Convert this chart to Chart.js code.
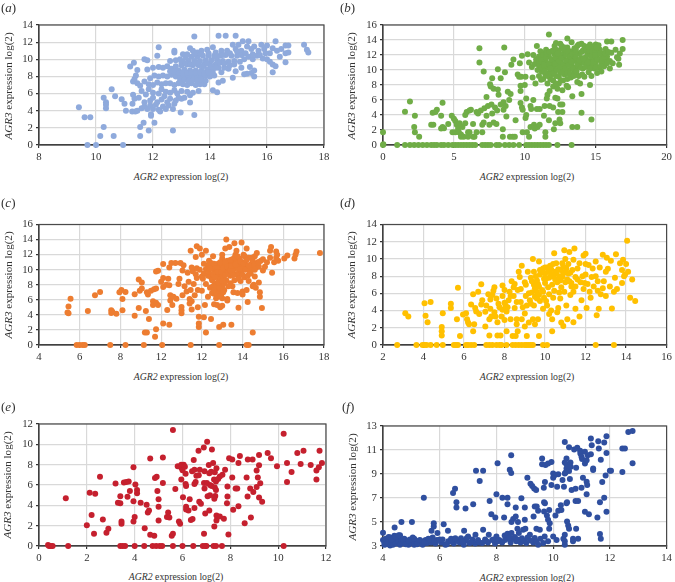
<!DOCTYPE html>
<html>
<head>
<meta charset="utf-8">
<script src="https://cdn.jsdelivr.net/npm/chart.js@4"></script>
<style>
    html, body { margin: 0; padding: 0; background: #fff; }
    body { position: relative; width: 675px; height: 582px; overflow: hidden; font-family: "Liberation Serif", serif; color: #333; }
    canvas { position: absolute; }
    .label { position: absolute; white-space: nowrap; }
    .panel { font-size: 13px; }
    .xtitle { font-size: 9.8px; transform: translate(-50%, -50%); }
    .ytitle { font-size: 11.1px; transform: translate(-50%, -50%) rotate(-90deg); }
</style>
</head>
<body>
<script>
// Значения, пары [AGR2, AGR3]
const pointsA = [
    [9.4,4.4],[9.6,3.25],[9.8,3.25],[9.7,0],[10,0],[10.95,0],[10.15,1.05],[10.27,2.1],[10.62,1.05],[10.27,5.5],[10.35,5],[10.35,4.7],[10.35,4.3],[10.55,6.5],[10.67,5.7],[10.9,5.35],[11,4.8],[11.05,4],
    [11.2,9.15],[11.33,9.6],[11.45,8.75],[11.3,5.85],[11.35,5.4],[11.28,4.8],[11.27,3.9],[11.38,3.9],[11.55,1.05],[11.55,2.1],[11.67,2.6],[11.85,1.7],[12.05,2.6],[11.93,3.4],[11.93,3.6],[12.7,1.7],[12.97,3.8],[13.3,4.95],[13.45,3.5],
    [12.2,11.4],[12.15,10.4],[12.75,11],[12.75,10.8],[13.45,12.65],[14.3,12.75],[14.55,12.75],[14.9,12.75],[11.7,10],[11.8,9.9],
    [11.45,4],[11.6,4.3],[11.7,4.5],[11.8,4.2],[11.9,4.6],[12,4.2],[12.1,4.7],[12.2,4.1],[12.25,3.9],[12.35,4.5],[12.45,4.2],[12.55,4.6],[12.7,4.2],[12.75,4.8],
    [11.5,5.5],[11.7,5],[11.9,5.2],[12,5.5],[12.15,5],[12.3,5.3],[12.4,5.7],[12.5,5],[12.6,5.4],[12.8,5.2],[12.9,5.5],[13,5.4],[13.1,5.5],[13.3,5.8],
    [11.6,6.3],[11.75,5.9],[11.85,6.5],[12,6.1],[12.2,6],[12.3,6.5],[12.45,6.2],[12.6,6.1],[12.75,6.4],[12.85,6],[13,6.3],[13.2,6.2],[13.4,6.1],[13.6,6.3],[14.1,6.4],[14.25,6.15],
    [11.45,7.2],[11.55,6.9],[11.7,7.4],[11.85,7.1],[12,7],[12.15,7.3],[12.3,7.1],[12.45,7.2],[12.6,7.2],[12.75,7],[12.9,7.2],[13.05,7.1],[13.2,7],[13.35,7.2],[13.5,7],[13.65,7.1],[13.8,7.1],[14.3,7.3],[14.45,7.5],[14.8,7.85],
    [11.3,7.4],[11.35,7.7],[11.4,8.1],[11.8,8.8],[11.9,7.8],[12.05,8.1],[12.2,8],[12.35,8.1],[12.5,8],[12.65,8.2],[12.8,8],[12.95,8],[13.1,8.1],[13.25,8],[13.4,8],[13.55,8],[13.7,8],[13.85,8.1],[14,8],[14.15,8.1],[14.4,8.5],
    [12,9],[12.2,9.1],[12.35,9],[12.5,9.2],[12.65,8.9],[12.8,9.2],[12.9,8.7],[13,9.3],[13.1,8.8],[13.2,9.4],[13.3,8.7],[13.4,9.3],[13.5,8.7],[13.6,9.3],[13.7,8.7],[13.8,9.4],[13.9,8.8],[14,9.4],[14.1,8.8],[14.2,9.4],[14.3,9],[14.5,9],[14.65,8.9],[14.9,8.6],[15.1,9],[15.3,8.3],[15.2,8.25],[15.45,8.4],[15.55,8],[15.55,8.7],[15.4,9.1],
    [12.6,9.8],[12.8,9.9],[12.95,10],[13.05,9.7],[13.15,10.2],[13.25,9.8],[13.35,10.3],[13.45,9.8],[13.55,10.3],[13.65,9.8],[13.75,10.4],[13.85,9.9],[13.95,10.4],[14.05,9.9],[14.15,10.4],[14.25,9.9],[14.35,10.4],[14.45,9.8],[14.55,10.5],[14.65,9.7],[14.75,10.4],[14.85,9.8],[14.95,10.4],[15.05,9.7],[15.2,10],[15.35,10.3],[15.5,10],[15.65,10.4],[15.85,10.1],[16,10],[16.1,9.7],[16.2,9.4],[16.2,8.5],[16.3,9.2],
    [13.05,10.6],[13.3,11.3],[13.4,11],[13.55,10.8],[13.7,11],[13.9,11.1],[14.1,11.4],[14.2,10.8],[14.4,11],[14.6,11],[14.8,11.7],[14.9,11.2],[15,11.7],[15.1,11],[15.15,12.1],[15.3,11.5],[15.35,12.1],[15.45,11.2],[15.55,11.5],[15.7,11],[15.8,11.7],[15.9,11.2],[16,11.6],[16.1,10.7],[16.2,11.3],[16.3,12.1],[16.35,11],[16.45,10.3],[16.5,11.2],[16.65,11.6],[16.65,10.7],[16.65,9.65],[16.75,10.8],[16.75,11.6],[17.3,11.7],[17.4,11.1],[17.45,10.8],
    [12.6,8.6],[12.75,8.6],[12.9,8.4],[13.05,8.5],[13.2,8.4],[13.35,8.5],[13.5,8.4],[13.65,8.5],[13.8,8.4],[13.95,8.5],[14.1,8.4],[12.95,7.6],[13.1,7.6],[13.25,7.5],[13.4,7.6],[13.55,7.5],[13.7,7.6],[13.85,7.5],[13,9.6],[13.15,9.5],[13.3,9.4],[13.45,9.5],[13.6,9.6],[13.75,9.2],[13.9,9.5],[14.05,9.2],[14.2,9],[14.35,9.6],[14.5,9.5],[14.7,9.3],[14.85,9.4],[13.2,10.6],[13.45,10.6],[13.7,10.6],[13.95,10.7],[14.2,10.3],[14.45,10.5],[14.7,10.7],[14.95,10.9],[15.1,10.5],[15.25,10.7],[15.5,10.6],[15.75,10.5],[15.95,10.7]
];
const pointsB = [
    [0,1.7],[0,0],[0.02,0.1],[1,0],[1.55,0],[1.9,0],[2.2,0],[2.5,0],[2.8,0],[3.1,0],[3.4,0],[3.6,0],[3.8,0],[4.1,0],[4.3,0],[4.6,0],[4.9,0],[5.1,0],[5.3,0],[5.5,0],[5.7,0],[5.9,0],[6.1,0],[6.3,0],[6.5,0],[7,0],[7.2,0],[7.4,0],[7.6,0],[8,0],[8.2,0],[8.6,0],[8.9,0],[9.2,0],[9.6,0],[10.1,0],[10.3,0],[10.5,0],[10.7,0],[10.9,0],[11.1,0],[11.3,0],[11.5,0],[11.7,0],[12.3,0],[13.3,0],
    [1.55,4.45],[1.9,5.8],[2.25,3.9],[2.2,2.4],[2.25,1.7],[2.55,1.1],[3.4,2.7],[3.55,2.7],[3.5,4.3],[3.8,4.7],[3.7,4.4],[4.1,3.9],[4.2,5.65],[4.1,2.2],[4.2,2.4],[4.3,2.25],[4.6,2.8],[4.85,3.9],[4.9,1.7],[5,3.5],[5.1,1.7],[5.1,3.2],[5.2,2.7],[5.3,2.2],[5.35,1.7],[5.4,2.9],[5.5,1.1],[5.5,1.4],[5.6,2.4],[5.7,1.1],[5.8,2.9],[5.8,4],[5.9,4.4],[6,1.7],[6,1.1],[6.1,1.7],[6.1,4.6],[6.2,4.7],[6.35,1.1],[6.35,2.8],[6.45,1.1],
    [6.6,1.7],[6.6,4.4],[6.7,4.2],[6.8,12.9],[6.8,11],[6.9,4.6],[7,2.7],[7,1.7],[7.1,3],[7.1,9.8],[7.15,4.9],[7.3,6.4],[7.3,3.9],[7.4,5.2],[7.5,2.7],[7.55,8.1],[7.6,7.8],[7.65,5.4],[7.7,4.2],[7.7,8.9],[7.8,3],[7.8,7.5],[7.9,5],[8,2.8],[8.05,4.6],[8.1,7.4],[8.1,10.1],[8.15,6.7],[8.3,8.9],[8.3,5.4],[8.45,2.1],[8.45,1.1],[8.5,4.7],[8.5,5.7],[8.55,13],[8.6,9.7],[8.65,5.2],[8.7,3.8],[8.8,7.1],[8.9,6],[8.95,1.1],[9,6.8],[9.05,10.7],[9.15,1.1],[9.2,11.4],[9.3,1.1],[9.35,3.3],[9.5,9.4],[9.6,9.1],[9.65,10.9],[9.7,7.9],[9.75,9.1],[9.7,5.6],[9.7,7.2],[9.8,11.9],[9.8,5],[9.85,1.7],[9.85,4.7],[10,8],[10.05,9.1],[10.1,6.2],[10.1,4],[10.05,3.6],[10.15,1.7],[10.2,12.1],[10.3,1.1],[10.3,11],[10.4,5.2],[10.4,2.4],[10.45,4.8],[10.55,9],[10.6,12],[10.6,6],[10.65,2.7],[10.7,2.2],[10.75,8.2],[10.85,13.2],[10.85,4.8],[10.9,2.4],[11.05,4.8],[11.05,2.7],[11.15,8.7],[11.2,12.3],
    [11.35,3.9],[11.4,5.2],[11.45,1.1],[11.45,1.7],[11.55,6.2],[11.6,6.7],[11.7,3.3],[11.75,7.2],[11.75,5.2],[12,5],[12.05,2.1],[12.15,6.3],[12.15,2.9],[12.3,6.2],[12.35,4.4],[12.45,3.4],[12.5,5.4],[12.5,2.9],[12.65,5.4],[12.65,4.4],[12.65,7.3],[13.05,7.7],[13.35,6.5],[13.35,2.4],[13.7,2.4],[14,6.8],[14,4.3],[14.7,3.4],[14.6,8],
    [10.5,10.4],[10.7,10.8],[10.8,11.4],[10.9,10],[11,9.2],[11,10.6],[11,11.8],[11.1,12.5],[11.2,9.8],[11.2,10.9],[11.3,8.8],[11.35,11.6],[11.4,10.2],[11.45,9.4],[11.5,12.7],[11.5,11],[11.6,8.2],[11.6,10.4],[11.65,9.6],[11.7,11.8],[11.7,14.75],[11.8,8.8],[11.85,10.8],[11.9,12.5],[11.9,9.9],[12,7.8],[12,11.3],[12,8.6],[12,10.2],[12.1,13.2],[12.1,12.1],[12.2,9.2],[12.2,13.6],[12.3,7.5],[12.3,10.7],[12.3,11.7],[12.4,8.2],[12.4,12.6],[12.5,9.6],[12.5,11],[12.6,13.2],[12.6,10.2],[12.7,8.6],[12.7,11.6],[12.8,12.3],[12.8,9.4],[12.9,10.8],[12.95,7.9],[13,14.2],[13,8.8],[13,13],[13.1,11.4],[13.1,10],[13.2,12.5],[13.25,9],[13.3,13.7],[13.3,10.6],[13.4,11.7],[13.5,9.6],[13.5,12.9],[13.6,10.3],[13.6,11.2],[13.7,13.2],[13.7,8.4],[13.8,12.2],[13.8,9.2],[13.9,10.9],[13.9,8.2],[14,11.6],[14,13.5],[14.1,10.2],[14.1,12.6],[14.2,11],[14.2,9.1],[14.3,13],[14.3,11.7],[14.4,10.5],[14.4,12.3],[14.5,11.2],[14.5,9.7],[14.6,13.4],[14.6,12],[14.7,10.7],[14.7,9.2],[14.8,11.5],[14.8,13],[14.9,12.4],[14.9,10.2],[15,11],[15,13.4],[15.1,12],[15.1,9.6],[15.2,11.4],[15.2,10.3],[15.3,12.7],[15.4,11],[15.4,9.8],[15.5,12.2],[15.6,10.5],[15.7,12.8],[15.7,11.3],[15.8,13.8],[15.8,11.8],[16,10.2],[16,11.2],[16.1,13.8],[16.1,12.3],[16.2,10.9],[16.4,12.7],[16.5,11.7],[16.6,11.5],[16.65,10.7],[16.7,12.2],[16.9,14],[16.9,12.8],
    [11,11.2],[11.15,11.5],[11.2,10.3],[11.3,12],[11.35,10.7],[11.4,9.8],[11.5,11.6],[11.55,12.2],[11.6,9.2],[11.7,10.9],[11.75,12.4],[11.8,10.2],[11.85,9.4],[11.9,11.4],[12,12.6],[12.05,9.6],[12.15,10.8],[12.15,11.7],[12.2,12.7],[12.2,8.2],[12.25,10],[12.4,9.1],[12.4,11.2],[12.45,10.4],[12.5,12.1],[12.55,8.6],[12.6,11.6],[12.65,9.7],[12.75,10.8],[12.8,13],[12.85,10.2],[12.9,12],[12.95,11.2],[13,9.6],[13.05,12.4],[13.1,10.7],[13.2,11.8],[13.2,9.5],[13.3,11.1],[13.35,12.1],[13.4,10.2],[13.45,9.2],[13.55,12.3],[13.6,11.7],[13.65,9.8],[13.7,10.8],[13.8,13.4],[13.85,11.3],[13.95,10.3],[14,12.4],[14.05,9.4],[14.15,11.5],[14.2,13.2],[14.3,10.4],[14.35,12.6],[14.45,11],[14.55,12.6],[14.6,10.2],[14.7,11.8],[14.75,12.5],[14.85,11],[15,12.6],[15.05,10.4],[15.1,11.5],[15.25,12.2],[15.35,10.5],[15.45,11.6],[15.6,11.8],[15.65,12.2],[15.8,10.9],[15.9,12.4],[15.2,13.3],[15.05,13],[14.95,12],[14.5,13.1],[13.6,12.7],[12.7,12.8],[12.3,12.2],[12.5,13.5]
];
const pointsC = [
    [5.85,0],[6,0],[6.15,0],[6.25,0],[7.5,0],[8.25,0],[9.15,0],[10.05,0],[11.45,0],[12.85,0],[14.2,0],[14.3,0],
    [5.4,4.3],[5.45,4.2],[5.45,5.1],[5.55,6.15],[6.4,4.5],[6.75,6.6],[7,7.05],[7.55,4.6],[7.55,4.25],[7.6,4.4],[7.8,4.15],[7.95,7],[8.05,7.3],[8.1,6.1],[8.1,4.6],[8.25,7.05],[8.7,3.9],[8.7,6.75],[8.9,4.9],[8.95,7.2],[8.9,8.7],[9.05,8.3],[9.05,7.5],[9.2,1.65],[9.3,1.65],[9.25,4.5],[9.3,7],[9.35,6.7],[9.4,3.45],[9.5,7.2],[9.6,5.8],[9.6,5.3],[9.65,7.4],[9.75,7.5],[9.7,1.1],[9.75,2.1],[9.75,5.6],[9.85,5.3],[9.75,9.75],[9.85,9.85],[10,8.4],[10.1,8.9],[10.1,2.85],[10.1,7.7],[10.1,10.75],[10.25,8],[10.3,4.65],[10.35,8.8],[10.4,7.95],[10.4,2.7],[10.4,10.3],[10.45,6.6],[10.45,5.9],[10.5,10.9],[10.55,5.3],[10.6,6.4],[10.7,10.9],[10.75,6.15],[10.85,8.1],[10.9,8.8],[10.95,10.9],[11,4.2],[11,4.6],[11,5.05],[11.05,6.6],[11.05,9.9],[11.1,10.6],[11.15,7.8],[11.25,7.1],[11.35,8.4],[11.4,5.5],[11.4,6.1],[11.45,7.3],[11.45,12.5],[11.5,4.7],[11.5,5.8],[11.55,9.8],[11.6,8.1],[11.65,6.6],[11.7,11.7],[11.75,13.1],[11.75,8.9],[11.75,10.2],[11.8,5],[11.8,7.3],[11.85,3.75],[11.85,2.4],[11.85,2.85],[11.9,12.8],[12,9.1],[12,12],[12,7.2],[12.1,3.7],[12.15,5.3],[12.2,1.65],[12.2,12.5],[12.2,8.1],[12.2,10.1],[12.3,6.4],[12.35,11.2],[12.4,7.6],[12.45,3.45],[12.45,9],[12.5,6.9],[12.55,11.8],[12.6,5.4],[12.6,10],[12.65,8.2],[12.7,6.2],[12.75,5.3],[12.8,10.8],[12.85,7],[12.85,9.3],[12.85,2.4],[12.9,5],[12.95,6.4],[12.95,8.1],[13,5.2],[13,11.5],[13,12],[13.05,2.7],[13.1,9.9],[13.1,7.3],[13.15,12.8],[13.2,14],[13.2,8.6],[13.25,6.1],[13.25,5.9],[13.3,10.8],[13.35,13],[13.4,9.2],[13.5,7.8],[13.45,2.7],[13.5,11.4],[13.55,7],[13.6,10.1],[13.6,13.5],[13.7,12.5],[13.7,11.1],[13.75,6.9],[13.8,9.5],[13.8,4.95],[13.9,8.5],[13.9,10.6],[13.95,13.6],[14,7.1],[14,6.7],[14.05,12],[14.1,9],[14.1,11],[14.2,7.3],[14.2,12.8],[14.2,10.2],[14.25,5.7],[14.3,8.5],[14.3,11.6],[14.35,9.8],[14.45,10.8],[14.5,1.65],[14.5,7.8],[14.55,8],[14.6,11.8],[14.6,9.1],[14.65,10.3],[14.65,7.6],[14.7,12.2],[14.75,11],[14.8,8.3],[14.85,6.4],[14.85,7],[14.95,4.9],[15,11.4],[15,9.9],[15.1,10.4],[15.2,11],[15.35,11.6],[15.35,12.5],[15.4,13],[15.45,9.6],[15.55,11],[15.65,11.6],[15.65,12.4],[15.7,12],[15.75,11.2],[16.05,11.5],[16.2,11.9],[16.55,11.5],[16.6,12],[16.65,12.4],[17.8,12.2],
    [11.3,9.6],[11.5,10.3],[11.7,9.4],[11.9,10],[12.1,9.5],[12.3,9.2],[12.5,10.4],[12.5,8.6],[12.7,9.6],[12.7,7.4],[12.85,10.2],[12.85,8.7],[13,9.4],[13,10.6],[13,7.7],[13.1,8.2],[13.2,9.8],[13.25,11.2],[13.35,10.2],[13.4,8.2],[13.5,9.9],[13.5,10.8],[13.6,8.6],[13.65,12],[13.7,9.4],[13.75,10.4],[13.85,11.5],[13.95,9.8],[14,10.4],[14.1,11.8],[14.15,10],[14.25,9.2],[14.4,10.3],[14.5,11.2],[14.6,10.7],[14.8,10.4],[14.9,11.2],[12.6,6.8],[12.8,7.1],[12.95,6.8],[12.75,6.5],[13,6.2],[12.55,7.8],[12.7,8],[12.35,9.7],[12.45,10.9],
    [12.3,10.6],[12.4,10.2],[12.55,9.4],[12.6,10.8],[12.65,9],[12.75,10.2],[12.8,9.7],[12.9,11],[12.95,9.7],[13.05,10.2],[13.05,8.9],[13.15,11],[13.15,9.3],[13.25,10.4],[13.3,9.5],[13.4,11.3],[13.4,9.9],[13.45,10.5],[13.55,9.3],[13.6,11.6],[13.65,10.7],[13.75,11.8],[13.85,10.1],[13.9,11.1],[14.05,10.8],[14.2,11.3],[14.3,10.6],[14.45,11.6],[14.6,10],[12.7,7],[12.85,7.6],[12.9,6.5],[13.05,7],[12.8,8.3],[13,8.5],[12.6,7.3],[14.8,11],[13.3,7.8],[13.8,8.8],[14,9.3],[14.4,9.5],[12.1,10.8],[12.05,8.8]
];
const pointsD = [
    [2.7,0],[3.65,0],[3.95,0],[4.05,0],[4.15,0],[4.35,0],[4.65,0],[4.95,0],[5.5,0],[5.6,0],[5.7,0],[6.1,0],[6.2,0],[6.35,0],[6.5,0],[7.1,0],[7.25,0],[7.4,0],[7.6,0],[7.75,0],[7.85,0],[8.1,0],[8.4,0],[8.55,0],[8.7,0],[8.85,0],[9,0],[9.1,0],[9.2,0],[9.3,0],[9.4,0],[9.9,0],[10.1,0],[12.5,0],[13.4,0],
    [3.1,3.7],[3.25,3.3],[4.05,4.85],[4.1,3.4],[4.2,2.65],[4.35,5],[4.9,1.1],[4.9,1.6],[4.9,2.1],[4.95,3.7],[5.35,4.3],[5.35,4.8],[5.65,3],[5.7,6.65],[5.8,1.05],[5.95,3.55],[6.1,3.7],[6.15,3],[6.2,2.6],[6.25,2.4],[6.35,4.7],[6.45,1.6],[6.45,5.9],[6.5,2.4],[6.55,4.3],[6.6,3.9],[6.7,6.2],[6.75,3.6],[6.85,7.05],[6.85,4.7],[6.9,5.2],[7.05,2.15],[7.05,3.85],[7.2,5.9],[7.25,1.1],[7.25,3],[7.3,5.3],[7.35,3.3],[7.4,5.8],[7.45,6.3],[7.5,3.8],[7.5,6.7],[7.55,3.3],[7.6,5.4],[7.65,1.1],[7.65,2.65],[7.7,4.8],[7.8,1.1],[7.85,3.3],[7.9,5.7],[7.9,6.9],[8,6.4],[8,2.9],[8.05,4.6],[8.1,1.6],[8.1,3.9],[8.2,5.2],[8.25,6.2],[8.3,3],[8.35,7.4],[8.4,1.05],[8.45,5.7],[8.5,4.3],[8.55,1.05],[8.6,2.4],[8.6,3],[8.65,6.4],[8.65,1.6],[8.7,8.5],[8.75,7.9],[8.8,5],[8.85,3],[8.85,9.2],[9,2.15],[9,3.65],[9.05,5.7],[9.05,7],[9.1,1.05],[9.15,8.5],[9.2,2.6],[9.3,4.8],[9.35,6.1],[9.35,7.4],[9.4,3],[9.4,10],[9.45,8.5],[9.5,2.4],[9.6,5.4],[9.65,7.1],[9.65,3],[9.7,1.05],[9.7,9.7],[9.75,8.2],[9.85,6.4],[9.9,4.2],[9.95,7.7],[10,9],[10.05,5.1],[10.15,6.7],[10.2,3.6],[10.3,8.2],[10.35,1.6],[10.35,3],[10.4,9.4],[10.4,5.5],[10.45,10.65],[10.5,7.6],[10.6,3.8],[10.65,4.3],[10.7,6.1],[10.75,8.7],[10.8,2.6],[10.85,9.5],[10.9,2.2],[10.95,11],[11,10],[11,7.3],[11.05,4.6],[11.1,3],[11.15,8.3],[11.2,10.8],[11.25,5.8],[11.3,6.8],[11.4,2.65],[11.4,9.9],[11.45,11.2],[11.5,4.2],[11.6,7.6],[11.6,8.9],[11.7,3.3],[11.8,5.2],[11.9,6.5],[11.9,10.4],[11.95,7.2],[12,10.6],[12,8.2],[12.05,4.3],[12.15,9.3],[12.25,5.5],[12.4,6.8],[12.5,9.7],[12.5,8],[12.55,3.45],[12.6,6.3],[12.65,4.2],[12.7,9],[12.85,10.5],[12.9,7.4],[13,5.7],[13,8.5],[13.05,10.15],[13.1,8.85],[13.2,6.8],[13.25,9.8],[13.3,4.25],[13.4,6.2],[13.45,7.8],[13.5,10.55],[13.55,6.5],[13.7,9.5],[13.8,7.2],[13.8,8.7],[13.85,9.9],[13.9,8],[13.95,8.2],[14.0,9.4],[14.05,12.1],[14.1,8.5],[14.2,5.5],[14.3,7.6],[14.45,5.1],
    [8.8,6.5],[9,7.3],[9.2,6],[9.3,7.8],[9.5,6.6],[9.55,8],[9.7,5.8],[9.7,6.8],[9.85,8.5],[9.9,6.2],[10,7.2],[10,8.3],[10.1,9],[10.2,7.8],[10.2,5.9],[10.3,8.8],[10.35,7],[10.45,6.3],[10.5,8.5],[10.55,9.5],[10.6,7.3],[10.7,8],[10.75,5.4],[10.8,6.7],[10.85,7.9],[10.9,9.1],[10.95,6.2],[11,8.5],[11.1,7.6],[11.15,9.4],[11.25,8.4],[11.3,7.2],[11.4,6.2],[11.5,7.9],[11.5,6.8],[11.7,9.5],[11.75,7.3],[11.85,8],[12,9.4],[12.1,7.1],[12.2,6.2],[12.3,7.9],[12.35,8.9],[12.6,7.4],[12.75,5.9],[12.85,6.6],
    [7.1,4.6],[7.3,4.2],[7.75,4.4],[7.9,4.1],[8,4.9],[8.15,4.4],[8.3,5.7],[8.45,6.7],[8.5,7.1],[8.6,5],[8.9,4.4],[9.1,4.6],[9.25,5.2],[9.5,5.6],[9.45,4.6],[9.75,5.1],[9.95,5.5],[10.1,4.6],[10.3,4],
    [9.6,7.5],[9.75,8.7],[9.9,8.9],[10.05,7.7],[10.15,8.5],[10.25,9.2],[10.4,8],[10.55,8.3],[10.65,8.8],[10.75,7.5],[10.9,8.3],[11.05,8.9],[11.2,7.4],[11.35,8.7],[9.45,7],[9.6,6.2]
];
const pointsE = [
    [0.38,0.1],[0.42,0],[0.5,0],[0.57,0],[1.22,0],[3.4,0],[3.5,0],[3.6,0],[4,0],[4.4,0],[4.75,0],[4.9,0],[5.05,0],[5.15,0],[5.6,0],[6,0],[6.45,0],[6.85,0],[6.95,0],[7,0],[7.3,0],[7.4,0],[7.65,0],[10.23,0],
    [1.12,4.7],[2,2.05],[2.12,5.25],[2.2,3.05],[2.3,1.2],[2.35,5.15],[2.55,6.8],[2.67,2.6],[2.82,1.3],[2.9,1.7],[3.2,6.15],[3.3,4.25],[3.4,4.2],[3.4,4.9],[3.45,2.2],[3.45,2.4],[3.55,6.25],[3.65,6.3],[3.7,4.85],[3.75,6.35],[3.8,5.4],[3.95,7.75],[3.95,4.4],[3.95,2.4],[4.03,6.05],[4,2.85],[4.1,5.2],[4.1,5.5],[4.25,4.25],[4.42,1.75],[4.5,4.05],[4.55,3.3],[4.6,3.5],[4.65,1.1],[4.65,8.6],[4.82,1],[4.85,6.7],[4.92,6.8],[4.95,5.4],[5,4.6],[5,3.85],[5,2.5],[5.18,6.2],[5.18,8.7],[5.35,2.85],[5.4,3.3],[5.45,2.8],[5.55,1],[5.6,1.2],[5.6,11.4],[5.7,5.6],[5.8,7.85],[5.85,2.4],[5.9,2.2],[5.95,8],[5.95,7.7],[5.95,6.55],[6,7.45],[6.05,8],[6.02,4.8],[6.1,7.8],[6.13,7.1],[6.13,6.1],[6.15,5.9],[6.15,3.85],[6.15,3.6],[6.25,3.5],[6.3,4.6],[6.35,2.55],[6.4,7.35],[6.42,2.65],[6.5,3.75],[6.5,7.5],[6.5,6.1],[6.47,8.46],[6.55,6.3],[6.58,6.9],[6.68,6.95],[6.72,7.5],[6.7,4.35],[6.77,4.15],[6.67,9.38],[6.9,1.2],[6.9,6.2],[6.92,7.35],[6.92,5.65],[6.95,3.2],[6.89,9.7],[7.02,6.2],[7.05,4.9],[7.12,3.5],[7.12,7.15],[7.15,6],[7.15,5],[7.03,10.26],[7.2,7.3],[7.22,5.9],[7.1,7.97],[7.32,6.55],[7.35,5.75],[7.35,7.25],[7.4,5.5],[7.23,9.5],[7.28,8.17],[7.37,4.93],[7.33,4.64],[7.33,1.93],[7.42,2.5],[7.42,3],[7.56,2.9],[7.73,2.68],[7.4,6.34],[7.49,6.6],[7.56,6.83],[7.67,7],[7.42,7.65],[7.78,7.5],[7.88,5.85],[7.88,4.87],[7.86,4.2],[7.92,1.14],
    [7.95,8.63],[8.08,8.5],[8.4,8.85],[8.34,8.17],[8.08,6.73],[8.68,6.73],[8.22,5.65],[8.29,5.65],[8.12,3.56],[8.34,3.9],[8.6,2.25],[8.86,2.8],[8.72,4.87],[8.73,8.5],[8.93,8.5],[8.83,5.65],[8.96,5.3],[9.1,5.8],[9.15,6.73],[9.2,7.94],[9.1,7.42],[9.2,8.95],[9.25,6.18],[9.2,4.77],[9.33,4.35],[9.56,9.15],[9.7,8.63],[9.95,7.84],[10.23,11.05],[10.37,8.17],[10.37,6.3],[10.56,7.29],[10.8,9.15],[10.94,8.07],[11.06,9.38],[11.36,7.97],[11.6,7.42],[11.6,6.53],[11.73,9.38],[11.7,7.75],[11.83,8.17]
];
const pointsF = [
    [4,4.1],[4,3.5],[4.05,3.1],[4.05,3.3],[4.1,3.6],[4.15,3.2],[4.2,3.4],[4.25,3.05],[4.25,3.7],[4.3,3.3],[4.35,3.1],[4.4,3.5],[4.4,3.85],[4.41,4.55],[4.45,3.2],[4.5,3.7],[4.55,3.35],[4.6,3.1],[4.6,3.9],[4.65,3.5],[4.65,5],[4.7,3.25],[4.75,3.6],[4.85,3.3],[4.9,3.1],[4.95,3.55],[5,3.3],[5.05,3.7],[5.02,5],[5.1,3.1],[5.15,3.45],[5.25,3.25],[5.35,3.4],[5.4,3.1],[5.44,7.03],[5.5,3.5],[5.55,3.25],[5.6,3.6],[5.7,3.3],[5.75,3.7],[5.71,4.27],[5.79,4.63],[5.79,4.9],[5.85,3.2],[5.9,3.5],[5.92,4.08],[6.05,3.3],[6.1,3.55],[6.14,4.82],[6.2,3.1],[6.3,3.4],[6.29,4.27],[6.4,3.6],[6.47,7.42],[6.5,3.2],[6.54,7.78],[6.59,6.65],[6.59,6.2],[6.6,3.5],[6.7,3.3],[6.75,3.65],[6.85,3.1],[6.9,3.45],[6.91,6.12],[6.86,4.27],[7,3.8],[7.05,3.25],[7.15,3.55],[7.18,6.48],[7.25,3.2],[7.28,9.27],[7.26,3.94],[7.35,3.5],[7.41,8.41],[7.5,3.25],[7.53,9.27],[7.53,4.35],[7.6,3.55],[7.7,3.3],[7.73,3.94],[7.76,6.76],[7.82,5.65],[7.85,3.5],[7.95,3.2],[8,7.31],[7.96,5.38],[8,3.8],[8.04,9.9],[8.1,3.5],[8.2,3.3],[8.21,7.03],[8.27,5.38],[8.35,3.6],[8.29,3.88],[8.39,7.03],[8.39,6.48],[8.39,4.02],[8.5,3.3],[8.47,9.35],[8.52,9.08],[8.52,10.57],[8.6,3.6],[8.53,4.08],[8.53,5],[8.7,3.4],[8.59,5.26],[8.68,5.46],[8.68,6.2],[8.74,4.44],[8.76,5],[8.79,4.08],[8.85,3.3],[8.88,6.98],[8.9,3.65],[8.94,4.35],[9.02,4.44],[9,3.4],[9,5.18],[9,6.2],[9.09,8.69],[9.1,3.7],[9.18,3.94],[9.2,8.19],[9.26,8],[9.3,3.3],[9.31,5.46],[9.35,6.29],[9.33,7.8],[9.4,7.67],[9.35,3.66],[9.42,6.29],[9.41,4.44],[9.47,5.93],[9.47,3.1],[9.41,3.4],[9.53,4.35],[9.61,10.3],[9.65,3.25],[9.67,7.86],[9.61,9.82],[9.68,6.65],[9.68,5.87],[9.71,6.56],[9.71,8.33],[9.7,3.8],[9.73,9.74],[9.78,5.54],[9.82,5.18],[9.82,9.88],[9.82,3.4],[9.86,6.01],[9.86,4.44],[9.88,4.9],[9.94,8.08],[9.94,10],[10,9.05],[10,8.69],[10,3.8],[10.04,8.88],[10.08,5.54],[10.12,3.5],[10.14,7.94],[10.18,8.97],[10.18,5.93],[10.27,6.4],[10.29,6.01],[10.33,8.5],[10.36,3.6],[10.38,7.94],[10.41,11.67],[10.41,9.96],[10.41,9.05],[10.41,3.94],[10.41,3.4],[10.41,3.1],[10.44,9.13],[10.47,10.3],[10.47,9.82],[10.47,9.46],[10.47,6.56],[10.49,6.65],[10.49,5.04],[10.53,9.66],[10.53,4.71],[10.56,11.23],[10.56,9.24],[10.56,4.44],[10.59,8.58],[10.61,9.96],[10.62,9.6],[10.65,7.67],[10.7,3.6],[10.7,3.4],[10.74,11.04],[10.79,7.78],[10.79,6.76],[10.81,9.52],[10.81,4.44],[10.85,11.18],[10.88,6.76],[10.88,3.6],[10.95,10.93],[10.96,10.7],[11,10.43],[11,7.86],[11.02,10.24],[11.05,8.69],[11.12,10.85],[11.12,9.88],[11.12,5.85],[11.18,10.15],[11.18,8.36],[11.18,7.31],[11.2,8.08],[11.22,10.57],[11.26,5.65],[11.33,11.95],[11.33,10.65],[11.36,11.4],[11.41,9.33],[11.41,9.46],[11.56,5.38],[11.59,11.73],[11.61,11.12],[11.65,6.65],[11.65,4],[11.68,10.18],[11.68,3.6],[11.73,8.33],[11.8,11.62],[11.8,7.03],[11.85,8.88],[11.88,12.14],[11.88,10.76],[11.88,5.85],[12,9.27],[12.04,9.27],[12.44,11.12],[12.53,11.12],[12.44,9.16],[12.65,12.5],[12.8,12.59],[12.8,9.9],
    [4.1,3.15],[4.2,3.75],[4.3,3.55],[4.45,3.75],[4.55,3.9],[4.7,3.55],[4.8,3.15],[4.9,3.45],[5.1,3.6],[5.2,3.15],[5.3,3.5],[5.45,3.3],[5.65,3.55],[5.8,3.4],[6,3.55],[6.25,3.15],[6.4,3.35],[6.55,3.65],[6.8,3.4],[6.95,3.65],[7.1,3.3],[7.4,3.3],[7.65,3.4],[7.9,3.55],[8.05,3.4],[8.3,3.5],[8.45,3.7],[8.65,3.75],[8.75,3.55],[9.05,3.25],[9.2,3.45],[9.55,3.6]
];

const ticksA = { x: [8, 10, 12, 14, 16, 18], y: [0, 2, 4, 6, 8, 10, 12, 14] };
const ticksB = { x: [0, 5, 10, 15, 20], y: [0, 2, 4, 6, 8, 10, 12, 14, 16] };
// на оригинале под отметкой 10 действительно напечатано 12
const ticksC = { x: [4, 6, 8, 12, 12, 14, 16, 18], y: [0, 2, 4, 6, 8, 10, 12, 14, 16] };
const ticksD = { x: [2, 4, 6, 8, 10, 12, 14, 16], y: [0, 2, 4, 6, 8, 10, 12, 14] };
const ticksE = { x: [0, 2, 4, 6, 8, 10, 12], y: [0, 2, 4, 6, 8, 10, 12] };
const ticksF = { x: [4, 6, 8, 10, 12, 14], y: [3, 5, 7, 9, 11, 13] };

// Рамка вокруг области графика
const framePlugin = {
    id: 'frame',
    beforeDatasetsDraw(chart) {
        const a = chart.chartArea;
        const ctx = chart.ctx;
        ctx.save();
        ctx.strokeStyle = '#4a4a4a';
        ctx.lineWidth = 1.2;
        ctx.strokeRect(a.left, a.top, a.width, a.height);
        ctx.restore();
    }
};

function addLabel(cls, html, x, y) {
    const el = document.createElement('div');
    el.className = 'label ' + cls;
    el.innerHTML = html;
    el.style.left = x + 'px';
    el.style.top = y + 'px';
    document.body.appendChild(el);
}

function makePanel(p) {
    const canvas = document.createElement('canvas');
    canvas.style.left = p.box[0] + 'px';
    canvas.style.top = p.box[1] + 'px';
    canvas.style.width = p.box[2] + 'px';
    canvas.style.height = p.box[3] + 'px';
    canvas.width = p.box[2];
    canvas.height = p.box[3];
    document.body.appendChild(canvas);

    const font = { family: '"Liberation Serif", serif', size: 10.8 };
    const tickStyle = { color: '#333', font, autoSkip: false, maxRotation: 0, padding: 3 };
    const gridStyle = { color: '#d9d9d9', lineWidth: 1.2, tickColor: '#333', tickLength: 3 };

    new Chart(canvas, {
        type: 'scatter',
        data: {
            datasets: [{
                data: p.points.map(([x, y]) => ({ x, y })),
                backgroundColor: p.color,
                borderColor: p.color,
                pointRadius: 3,
                borderWidth: 0,
                clip: false
            }]
        },
        plugins: [framePlugin],
        options: {
            responsive: false,
            animation: false,
            layout: { padding: { left: 0, top: p.plot[1] - p.box[1], right: p.box[0] + p.box[2] - p.plot[2], bottom: 0 } },
            plugins: { legend: { display: false }, tooltip: { enabled: false } },
            scales: {
                x: {
                    type: 'linear',
                    min: p.tickX[0],
                    max: p.tickX[p.tickX.length - 1],
                    afterBuildTicks: s => { s.ticks = p.tickX.map(value => ({ value })); },
                    ticks: { ...tickStyle, callback: (v, i) => p.ticks.x[i] },
                    grid: gridStyle,
                    border: { color: '#333', width: 1.2 },
                    afterFit: s => { s.height = p.box[1] + p.box[3] - p.plot[3]; }
                },
                y: {
                    type: 'linear',
                    min: p.ticks.y[0],
                    max: p.ticks.y[p.ticks.y.length - 1],
                    afterBuildTicks: s => { s.ticks = p.ticks.y.map(value => ({ value })); },
                    ticks: { ...tickStyle, callback: v => v },
                    grid: gridStyle,
                    border: { color: '#333', width: 1.2 },
                    afterFit: s => { s.width = p.plot[0] - p.box[0]; }
                }
            }
        }
    });

    const xName = '<i>AGR2</i> expression log(2)';
    const yName = '<i>AGR3</i> expression log(2)';
    addLabel('panel', '(<i>' + p.name + '</i>)', p.nameAt[0], p.nameAt[1]);
    addLabel('xtitle', xName, p.xAt[0], p.xAt[1]);
    addLabel('ytitle', yName, p.yAt[0], p.yAt[1]);
}

makePanel({ name: 'a', points: pointsA, color: '#8faadc', ticks: ticksA, tickX: ticksA.x, box: [0, 10, 335, 160], plot: [39, 25, 324, 145], nameAt: [1, 0], xAt: [181, 176], yAt: [8, 86] });
makePanel({ name: 'b', points: pointsB, color: '#70ad47', ticks: ticksB, tickX: ticksB.x, box: [340, 10, 335, 160], plot: [383, 25, 669, 145], nameAt: [340, 0], xAt: [527, 176], yAt: [351, 86] });
makePanel({ name: 'c', points: pointsC, color: '#ed7d31', ticks: ticksC, tickX: [4, 6, 8, 10, 12, 14, 16, 18], box: [0, 210, 335, 160], plot: [39, 224.5, 324, 345], nameAt: [1, 195], xAt: [181, 376], yAt: [8, 285] });
makePanel({ name: 'd', points: pointsD, color: '#ffc000', ticks: ticksD, tickX: ticksD.x, box: [340, 210, 335, 160], plot: [383, 224.5, 669, 345], nameAt: [340, 195], xAt: [527, 376], yAt: [351, 285] });
makePanel({ name: 'e', points: pointsE, color: '#c5202e', ticks: ticksE, tickX: ticksE.x, box: [0, 410, 335, 160], plot: [39, 424, 326, 546], nameAt: [1, 399], xAt: [176, 576], yAt: [7, 485] });
makePanel({ name: 'f', points: pointsF, color: '#2f4f9f', ticks: ticksF, tickX: ticksF.x, box: [340, 410, 335, 160], plot: [383, 426, 667, 546], nameAt: [342, 399], xAt: [527, 577], yAt: [352, 487] });
</script>
</body>
</html>
